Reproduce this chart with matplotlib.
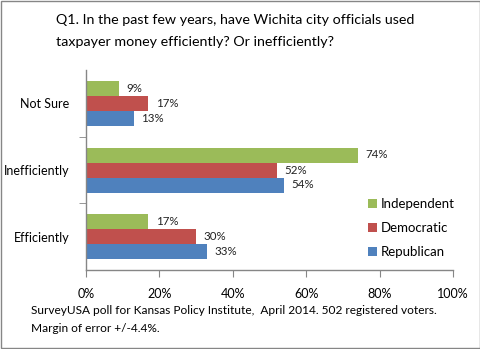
import numpy as np
import matplotlib.pyplot as plt
from matplotlib.patches import Rectangle

# Survey responses (percent), categories listed bottom to top
categories = ["Efficiently", "Inefficiently", "Not Sure"]
republican = [33, 54, 13]
democratic = [30, 52, 17]
independent = [17, 74, 9]

series_names = ["Independent", "Democratic", "Republican"]
series_values = [independent, democratic, republican]
series_colors = ["#9BBB59", "#C0504D", "#4F81BD"]

ticks = [0, 20, 40, 60, 80, 100]
tick_labels = [f"{t}%" for t in ticks]

plt.rcParams["font.family"] = ["Lato", "DejaVu Sans"]

fig = plt.figure(figsize=(4.81, 3.49), dpi=100)
fig.patch.set_facecolor("white")

# outer chart border
fig.add_artist(Rectangle((0.002, 0.003), 0.996, 0.994, transform=fig.transFigure,
                         fill=False, edgecolor="#868686", linewidth=1.0))

ax = fig.add_axes([86 / 481, 1 - 270 / 349, (453 - 86) / 481, 200 / 349])

y = np.arange(len(categories))
h = 0.225
offsets = [h, 0, -h]
for name, vals, color, off in zip(series_names, series_values, series_colors, offsets):
    bars = ax.barh(y + off, vals, height=h, color=color, label=name)
    for b, v in zip(bars, vals):
        ax.text(v + 2.0, b.get_y() + h / 2, f"{v}%", va="center", ha="left",
                fontsize=8.3, color="#222222")

ax.set_xlim(0, 100)
ax.set_ylim(-0.5, 2.5)
ax.set_xticks(ticks)
ax.set_xticklabels(tick_labels, fontsize=9)
ax.set_yticks(y)
ax.set_yticklabels(categories, fontsize=9)
ax.set_yticks([0.5, 1.5], minor=True)

for side in ["top", "right"]:
    ax.spines[side].set_visible(False)
for side in ["left", "bottom"]:
    ax.spines[side].set_color("#868686")
    ax.spines[side].set_linewidth(1.0)

ax.tick_params(axis="x", direction="out", length=5, color="#868686", pad=8)
ax.tick_params(axis="y", which="major", length=0, pad=12)
ax.tick_params(axis="y", which="minor", direction="out", length=5, color="#868686")

handles, labels = ax.get_legend_handles_labels()
ax.legend(handles, labels, loc="lower left", bbox_to_anchor=(0.735, 0.0),
          frameon=False, fontsize=9.5, handlelength=0.7, handleheight=0.7,
          handletextpad=0.3, labelspacing=0.9)

fig.text(56 / 481, 1 - 20 / 349, "Q1. In the past few years, have Wichita city officials used",
         fontsize=10.3, va="center", ha="left")
fig.text(56 / 481, 1 - 42 / 349, "taxpayer money efficiently? Or inefficiently?",
         fontsize=10.3, va="center", ha="left")

fig.text(31 / 481, 1 - 311 / 349,
         "SurveyUSA poll for Kansas Policy Institute,  April 2014. 502 registered voters.",
         fontsize=8.6, va="center", ha="left")
fig.text(31 / 481, 1 - 328 / 349, "Margin of error +/-4.4%.",
         fontsize=8.6, va="center", ha="left")

fig.savefig("out.png", dpi=100)
